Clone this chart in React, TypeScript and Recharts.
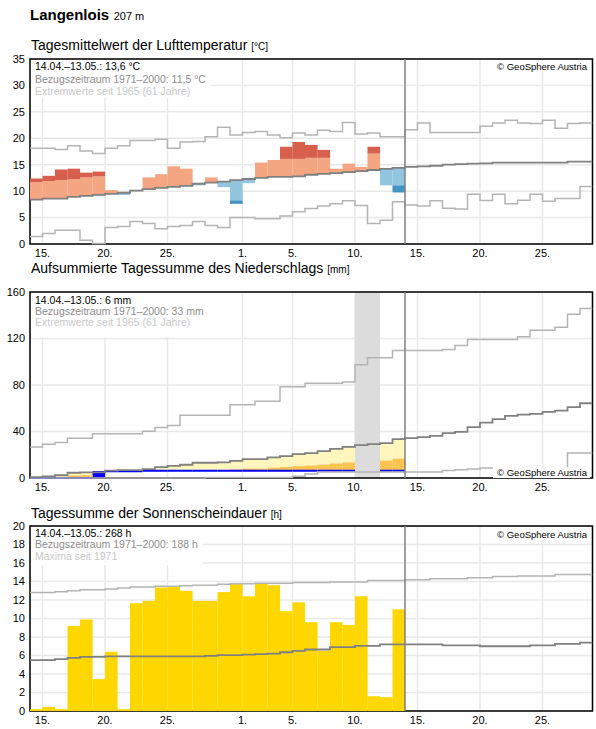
import React from 'react';
import {
  ComposedChart, Bar, Line, XAxis, YAxis, CartesianGrid, ReferenceLine, ReferenceArea, Cell,
} from 'recharts';

const FONT = '"Liberation Sans", Arial, sans-serif';

// x axis: day 0 = 14.04., 45 days shown, 30 observed (14.04.–13.05.)
const tickDays = [1, 6, 11, 17, 21, 26, 31, 36, 41];
const tickLabels = ['15.', '20.', '25.', '1.', '5.', '10.', '15.', '20.', '25.'];

// --- Lufttemperatur (°C) ---
const tempMax = [18.1, 18.1, 17.9, 18.6, 17.6, 17.1, 18.1, 18.6, 19.6, 19.6, 19.8, 18.1, 19.3, 19.4, 20.3, 22.1, 20.6, 21.1, 21.3, 20.6, 20.1, 21.0, 20.6, 21.5, 21.3, 23.0, 20.8, 21.0, 20.3, 20.3, 21.6, 22.9, 21.1, 21.1, 21.1, 21.1, 22.3, 22.9, 23.4, 22.9, 22.8, 23.4, 21.9, 22.8, 22.9];
const tempMean = [8.4, 8.6, 8.6, 8.9, 9.1, 9.3, 9.5, 9.7, 10.1, 10.4, 10.6, 10.8, 11.0, 11.4, 11.6, 11.8, 12.1, 12.3, 12.5, 12.7, 12.7, 12.8, 13.1, 13.25, 13.4, 13.6, 13.8, 14.0, 14.2, 14.4, 14.6, 14.7, 14.8, 15.0, 15.1, 15.2, 15.25, 15.4, 15.4, 15.4, 15.4, 15.4, 15.4, 15.6, 15.6];
const tempMin = [1.4, 2.0, 2.6, 2.6, 0.7, 0.1, 3.1, 3.3, 4.25, 3.9, 2.9, 3.3, 3.5, 4.25, 3.5, 3.1, 5.0, 5.0, 4.8, 4.8, 5.3, 6.1, 6.7, 7.2, 7.6, 8.2, 7.3, 3.9, 4.5, 8.0, 7.4, 7.2, 8.2, 6.75, 6.6, 9.4, 8.25, 9.4, 7.6, 8.3, 9.4, 8.1, 8.6, 8.6, 10.9];
const tempActual = [12.4, 12.9, 14.1, 14.25, 13.5, 13.7, 10.2, 9.25, 10.1, 12.6, 13.2, 14.7, 14.25, 11.1, 12.6, 10.75, 7.6, 11.5, 15.4, 15.9, 18.4, 19.3, 18.75, 17.8, 14.25, 15.2, 14.6, 18.4, 11.1, 9.75];
const tempWarmLimit = [11.7, 11.9, 12.1, 12.25, 12.6, 12.8, null, null, null, null, null, null, null, null, null, null, null, null, null, null, 16.1, 16.1, 16.3, 16.3, null, null, null, 17.1, null, null];
const tempColdLimit = [null, null, null, null, null, null, null, null, null, null, null, null, null, null, null, null, 8.25, null, null, null, null, null, null, null, null, null, null, null, null, 11.1];

// --- Niederschlag, aufsummiert (mm) ---
const precMax = [26.6, 29.1, 30.6, 34.3, 34.3, 38.0, 38.0, 38.0, 38.0, 40.2, 43.5, 45.2, 54.0, 54.0, 54.0, 54.0, 63.1, 63.1, 66.0, 66.0, 78.6, 78.6, 81.4, 81.4, 81.4, 82.6, 97.4, 103.4, 103.4, 109.7, 109.7, 109.7, 109.7, 110.6, 114.0, 119.2, 119.2, 119.2, 119.2, 121.4, 127.2, 127.2, 129.7, 140.9, 145.8];
const precMean = [0.8, 1.4, 2.5, 4.5, 4.8, 4.9, 6.3, 6.8, 6.8, 7.7, 9.4, 10.5, 11.4, 13.1, 13.1, 13.4, 14.8, 16.3, 16.3, 17.7, 18.9, 20.5, 21.4, 23.1, 25.1, 26.8, 28.3, 29.1, 30.0, 33.4, 34.3, 35.1, 36.3, 38.6, 39.7, 43.7, 47.7, 50.6, 53.4, 54.6, 55.2, 56.9, 58.0, 60.9, 64.3];
const precMin = [0, 0, 0, 0, 0, 0, 0, 0, 0, 0, 0, 0, 0, 0, 0.5, 0.5, 0.5, 0.5, 0.5, 0.5, 0.5, 1.4, 3.4, 5.1, 5.1, 5.1, 5.1, 5.1, 5.1, 5.1, 5.1, 5.1, 5.1, 6.5, 7.1, 7.7, 8.5, 8.5, 8.5, 8.5, 8.5, 8.5, 8.5, 21.4, 21.4];
const precActual = [0, 0, 0, 0, 0, 5.1, 5.8, 5.8, 5.8, 6.3, 6.3, 6.3, 6.3, 6.3, 6.3, 6.3, 6.3, 6.3, 6.3, 6.3, 6.3, 6.3, 6.3, 6.3, 6.3, 6.3, null, null, 6.3, 6.3];
const precDryLimit = [0.4, 0.7, 1.25, 2.25, 2.4, 2.45, 3.15, 3.4, 3.4, 3.85, 4.7, 5.25, 5.7, 6.55, 6.55, 6.7, 7.4, 8.15, 8.15, 8.85, 9.45, 10.25, 10.7, 11.55, 12.55, 13.4, 14.15, 14.55, 15.0, 16.7];
const precMissing = [26, 28];

// --- Sonnenscheindauer (h) ---
const sunMax = [12.8, 12.8, 12.9, 13.0, 13.1, 13.1, 13.2, 13.3, 13.4, 13.4, 13.5, 13.5, 13.55, 13.6, 13.6, 13.7, 13.75, 13.75, 13.8, 13.8, 13.8, 13.9, 13.9, 13.9, 13.95, 13.95, 13.95, 14.1, 14.1, 14.1, 14.2, 14.2, 14.3, 14.3, 14.3, 14.4, 14.4, 14.55, 14.55, 14.6, 14.6, 14.6, 14.75, 14.75, 14.75];
const sunMean = [5.5, 5.5, 5.6, 5.75, 5.85, 5.85, 5.9, 5.9, 5.9, 5.9, 5.9, 5.9, 5.9, 5.9, 5.95, 6.05, 6.05, 6.1, 6.15, 6.2, 6.35, 6.5, 6.65, 6.65, 6.9, 6.9, 7.05, 7.05, 7.2, 7.2, 7.2, 7.2, 7.2, 7.1, 7.1, 7.1, 7.0, 7.0, 7.0, 7.0, 7.1, 7.1, 7.25, 7.25, 7.4];
const sunActual = [0.2, 0.45, 0.2, 9.2, 9.9, 3.45, 6.4, 0.2, 11.65, 11.9, 13.35, 13.4, 13.0, 11.9, 11.9, 12.85, 13.8, 12.4, 13.75, 13.6, 10.8, 11.75, 9.6, 6.5, 9.6, 9.3, 12.4, 1.6, 1.5, 11.0];

const C = {
  warmLight: '#f4a582', warmDark: '#d6604d', coldLight: '#92c5de', coldDark: '#4393c3',
  dry: '#fff6bd', veryDry: '#fec44f', wet: '#0000ff', sun: '#ffd700',
  extreme: '#b4b4b4', mean: '#808080', grid: '#e8e8e8', missing: '#dcdcdc',
};

const N_DAYS = 45;
const TODAY = 30;
const BAR_W = 12.4; // one day is 12.5px wide; a hair less keeps recharts from shrinking the bars
const rowIdx = Array.from({ length: N_DAYS + 1 }, (_, i) => i);
const at = (arr: number[], i: number) => arr[Math.min(i, arr.length - 1)];
const obs = (arr: (number | null)[], i: number) => (i < arr.length ? arr[i] : null);

const tempRows = rowIdx.map((i) => {
  const a = obs(tempActual, i);
  const m = at(tempMean, i);
  let light: number[] | null = null;
  let dark: number[] | null = null;
  let lightFill = C.warmLight;
  let darkFill = C.warmDark;
  if (a != null && a > m) {
    const lim = obs(tempWarmLimit, i);
    light = [m, lim != null ? Math.min(a, lim) : a];
    if (lim != null && a > lim) dark = [lim, a];
  } else if (a != null && a < m) {
    const lim = obs(tempColdLimit, i);
    light = [lim != null ? Math.max(a, lim) : a, m];
    if (lim != null && a < lim) dark = [a, lim];
    lightFill = C.coldLight;
    darkFill = C.coldDark;
  }
  return { x: i, max: at(tempMax, i), mean: m, min: at(tempMin, i), light, dark, lightFill, darkFill };
});

const precRows = rowIdx.map((i) => {
  const a = obs(precActual, i);
  const m = at(precMean, i);
  const dry = obs(precDryLimit, i);
  let low: number[] | null = null;
  let lowFill = C.dry;
  let orange: number[] | null = null;
  if (a != null && a > m) {
    low = [0, a];
    lowFill = C.wet;
  } else if (a != null && a < m) {
    low = [Math.max(a, dry ?? a), m];
    if (dry != null && a < dry) orange = [a, dry];
  }
  return { x: i, max: at(precMax, i), mean: m, min: at(precMin, i), low, lowFill, orange, actual: a };
});

const sunRows = rowIdx.map((i) => ({ x: i, max: at(sunMax, i), mean: at(sunMean, i), sun: obs(sunActual, i) }));

const fmtDay = (v: number) => tickLabels[tickDays.indexOf(v)] ?? '';
const tickStyle = { fontSize: 11, fill: '#000', fontFamily: FONT };

// plain rect, a touch wider so neighbouring days touch
const DayRect = (p: any) => {
  if (p.x == null || p.y == null || !p.width || !p.height) return null;
  return <rect x={p.x} y={p.y} width={p.width + 0.2} height={p.height} fill={p.fill} />;
};

const TopLine = (p: any) => {
  if (p.x == null || p.y == null || !p.width) return null;
  return <line x1={p.x} x2={p.x + p.width + 0.1} y1={p.y} y2={p.y} stroke={C.wet} strokeWidth={2} />;
};

function Panel({ data, yMax, yTicks, height, children }: any) {
  return (
    <ComposedChart width={596} height={height} data={data}
      margin={{ top: 9, right: 3.5, bottom: 0, left: 0 }} style={{ fontFamily: FONT }}>
      <CartesianGrid stroke={C.grid} strokeWidth={1.5} />
      <XAxis dataKey="x" type="number" domain={[0, N_DAYS]} ticks={tickDays} interval={0}
        tickFormatter={fmtDay} allowDataOverflow tickLine={false} axisLine={false}
        tick={tickStyle} tickSize={0} tickMargin={5} height={20} />
      <XAxis xAxisId="b1" dataKey="x" type="number" domain={[-0.5, N_DAYS - 0.5]} allowDataOverflow hide />
      <XAxis xAxisId="b2" dataKey="x" type="number" domain={[-0.5, N_DAYS - 0.5]} allowDataOverflow hide />
      <XAxis xAxisId="b3" dataKey="x" type="number" domain={[-0.5, N_DAYS - 0.5]} allowDataOverflow hide />
      <YAxis type="number" domain={[0, yMax]} ticks={yTicks} interval={0} width={30}
        tickLine={false} axisLine={false} tick={tickStyle} tickSize={0} tickMargin={5} />
      {children}
      <ReferenceLine x={TODAY} stroke={C.mean} strokeWidth={1.5} />
      <ReferenceArea x1={0} x2={N_DAYS} y1={0} y2={yMax} fill="none" stroke="#000" strokeWidth={1.5} />
    </ComposedChart>
  );
}

function stepLines() {
  return [
    <Line key="max" type="stepAfter" dataKey="max" stroke={C.extreme} strokeWidth={1.5} dot={false} activeDot={false} isAnimationActive={false} />,
    <Line key="min" type="stepAfter" dataKey="min" stroke={C.extreme} strokeWidth={1.5} dot={false} activeDot={false} isAnimationActive={false} />,
    <Line key="mean" type="stepAfter" dataKey="mean" stroke={C.mean} strokeWidth={1.8} dot={false} activeDot={false} isAnimationActive={false} />,
  ];
}

function InfoBox({ top, lines, lineHeight, padTop, padBottom }: any) {
  const colors = ['#000', '#8c8c8c', '#c8c8c8'];
  return (
    <div style={{ position: 'absolute', left: 31, top, background: '#fff', padding: `${padTop}px 5px ${padBottom}px 4px`,
      fontSize: 10.5, lineHeight: `${lineHeight}px`, whiteSpace: 'nowrap' }}>
      {lines.map((l: string, i: number) => <div key={i} style={{ color: colors[i] }}>{l}</div>)}
    </div>
  );
}

function Copyright({ top }: { top: number }) {
  return (
    <div style={{ position: 'absolute', right: 6, top, background: '#fff', padding: '0 3px 0 4px',
      fontSize: 9.5, lineHeight: '11px', color: '#000', whiteSpace: 'nowrap' }}>© GeoSphere Austria</div>
  );
}

function Title({ top, text, unit }: { top: number; text: string; unit: string }) {
  return (
    <div style={{ position: 'absolute', left: 31, top, fontSize: 14, lineHeight: '16px', whiteSpace: 'nowrap' }}>
      {text} <span style={{ fontSize: 10 }}>{unit}</span>
    </div>
  );
}

export default function App() {
  return (
    <div style={{ position: 'absolute', left: 0, top: 0, width: 596, height: 729, background: '#fff',
      fontFamily: FONT, color: '#000', overflow: 'hidden' }}>
      <div style={{ position: 'absolute', left: 30, top: 6, lineHeight: '17px', whiteSpace: 'nowrap' }}>
        <span style={{ fontSize: 15, fontWeight: 'bold' }}>Langenlois</span>{' '}
        <span style={{ fontSize: 11 }}>207 m</span>
      </div>

      <Title top={37} text="Tagesmittelwert der Lufttemperatur" unit="[°C]" />
      <div style={{ position: 'absolute', left: 0, top: 50 }}>
        <Panel data={tempRows} yMax={35} yTicks={[0, 5, 10, 15, 20, 25, 30, 35]} height={214}>
          <Bar xAxisId="b1" dataKey="light" barSize={BAR_W} shape={DayRect} isAnimationActive={false}>
            {tempRows.map((r, i) => <Cell key={i} fill={r.lightFill} />)}
          </Bar>
          <Bar xAxisId="b2" dataKey="dark" barSize={BAR_W} shape={DayRect} isAnimationActive={false}>
            {tempRows.map((r, i) => <Cell key={i} fill={r.darkFill} />)}
          </Bar>
          {stepLines()}
        </Panel>
      </div>
      <InfoBox top={60} lineHeight={12.7} padTop={0} padBottom={0}
        lines={['14.04.–13.05.: 13,6 °C', 'Bezugszeitraum 1971–2000: 11,5 °C', 'Extremwerte seit 1965 (61 Jahre)']} />
      <Copyright top={60.5} />

      <Title top={260} text="Aufsummierte Tagessumme des Niederschlags" unit="[mm]" />
      <div style={{ position: 'absolute', left: 0, top: 283 }}>
        <Panel data={precRows} yMax={160} yTicks={[0, 40, 80, 120, 160]} height={215}>
          <ReferenceArea x1={precMissing[0]} x2={precMissing[1]} y1={0} y2={160} fill={C.missing} fillOpacity={1} stroke="none" />
          <Bar xAxisId="b1" dataKey="low" barSize={BAR_W} shape={DayRect} isAnimationActive={false}>
            {precRows.map((r, i) => <Cell key={i} fill={r.lowFill} />)}
          </Bar>
          <Bar xAxisId="b2" dataKey="orange" fill={C.veryDry} barSize={BAR_W} shape={DayRect} isAnimationActive={false} />
          {stepLines()}
          <Bar xAxisId="b3" dataKey="actual" barSize={BAR_W} shape={TopLine} isAnimationActive={false} />
        </Panel>
      </div>
      <InfoBox top={293} lineHeight={11.2} padTop={2} padBottom={8}
        lines={['14.04.–13.05.: 6 mm', 'Bezugszeitraum 1971–2000: 33 mm', 'Extremwerte seit 1965 (61 Jahre)']} />
      <Copyright top={467} />

      <Title top={505} text="Tagessumme der Sonnenscheindauer" unit="[h]" />
      <div style={{ position: 'absolute', left: 0, top: 517 }}>
        <Panel data={sunRows} yMax={20} yTicks={[0, 2, 4, 6, 8, 10, 12, 14, 16, 18, 20]} height={214}>
          <Bar xAxisId="b1" dataKey="sun" fill={C.sun} barSize={BAR_W} shape={DayRect} isAnimationActive={false} />
          <Line type="stepAfter" dataKey="max" stroke={C.extreme} strokeWidth={1.5} dot={false} activeDot={false} isAnimationActive={false} />
          <Line type="stepAfter" dataKey="mean" stroke={C.mean} strokeWidth={1.8} dot={false} activeDot={false} isAnimationActive={false} />
        </Panel>
      </div>
      <InfoBox top={527} lineHeight={11.35} padTop={1} padBottom={3}
        lines={['14.04.–13.05.: 268 h', 'Bezugszeitraum 1971–2000: 188 h', 'Maxima seit 1971']} />
      <Copyright top={528.5} />
    </div>
  );
}
